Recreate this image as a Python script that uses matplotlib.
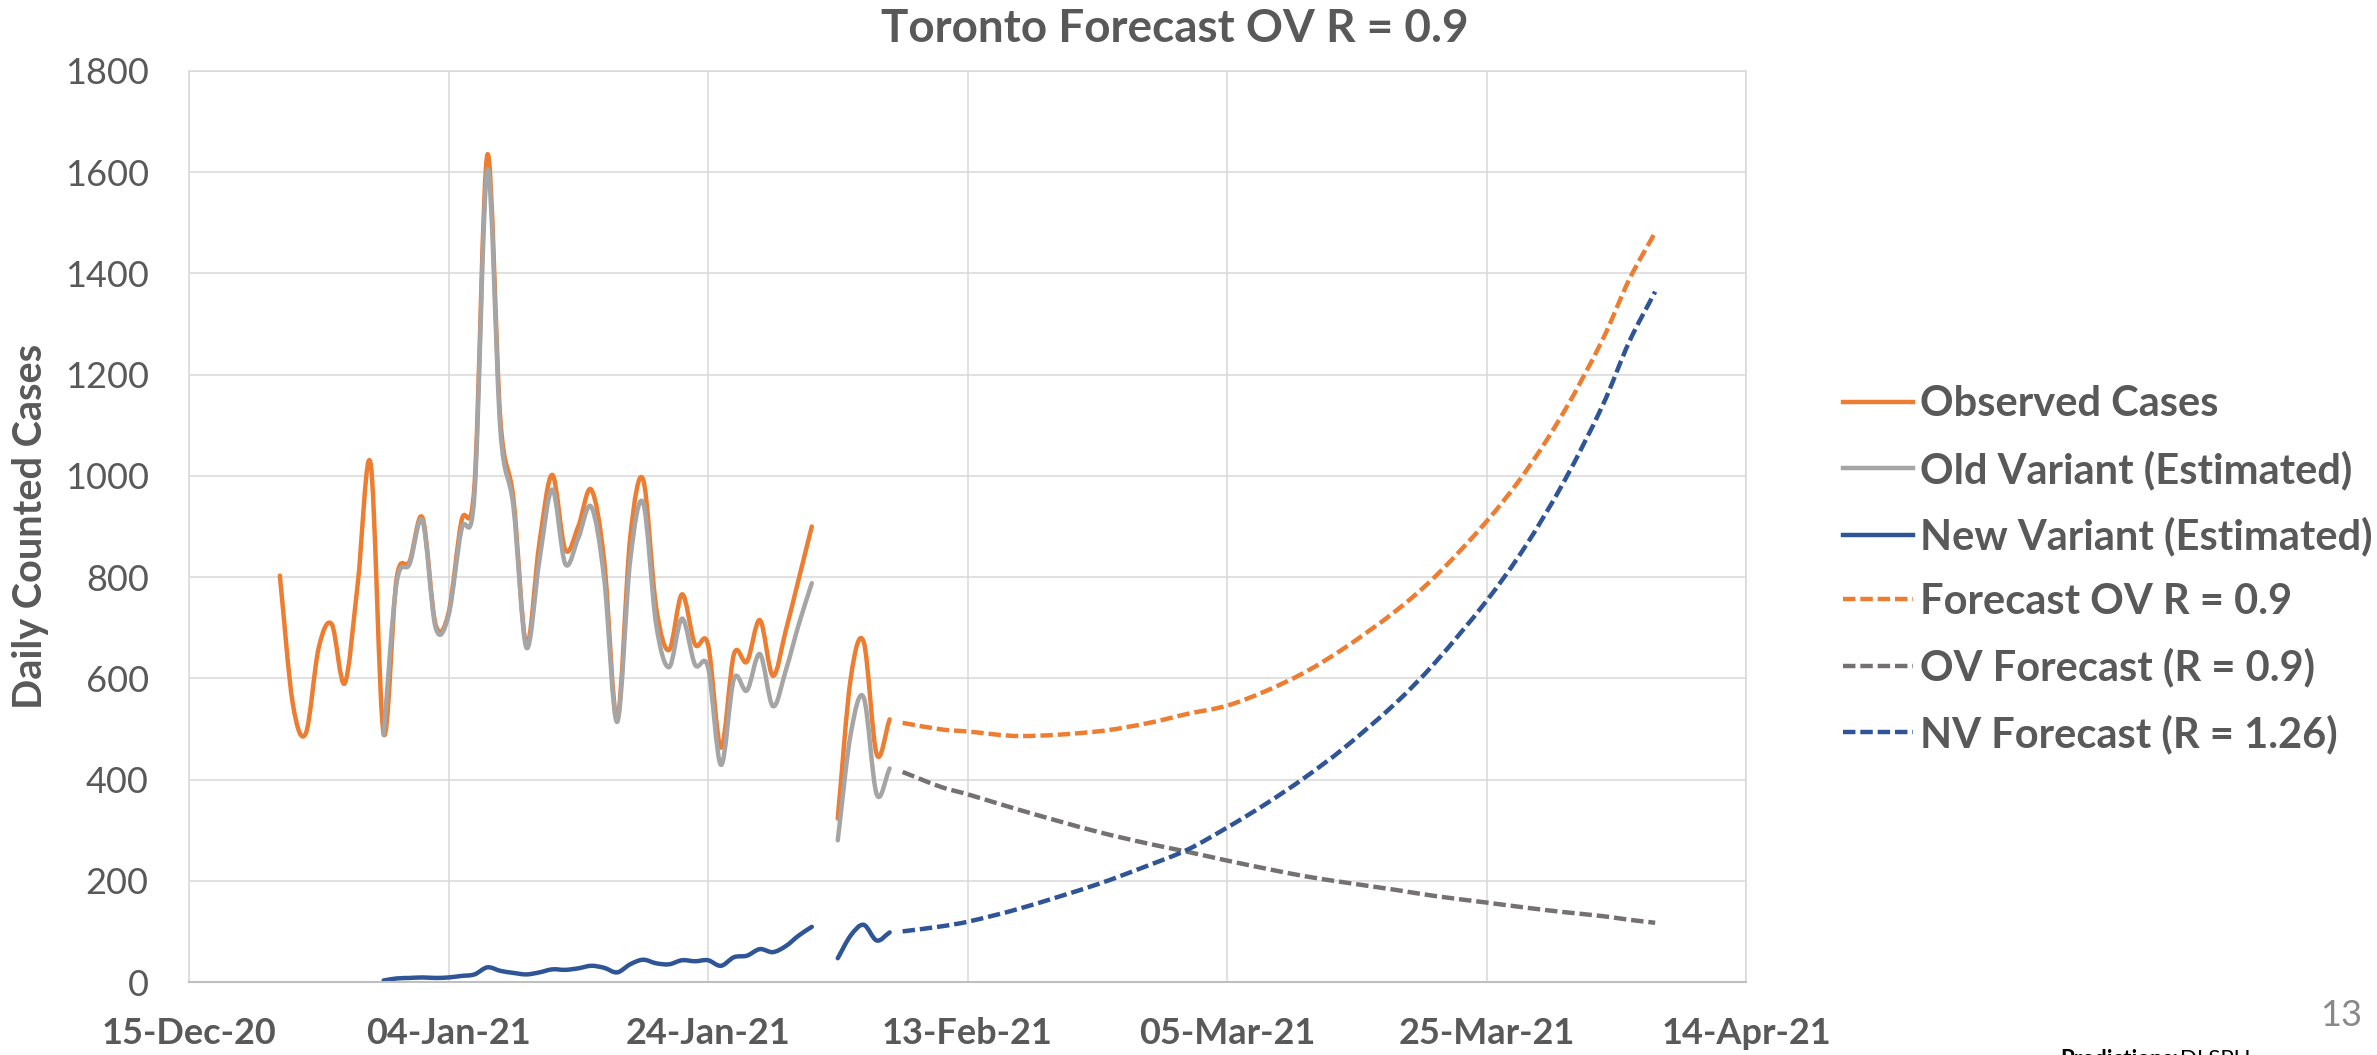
import matplotlib
matplotlib.use("Agg")
import matplotlib.pyplot as plt
import matplotlib.dates as mdates
from matplotlib.path import Path
from matplotlib.patches import PathPatch
from matplotlib.lines import Line2D
import numpy as np
import pandas as pd

plt.rcParams['font.family'] = ['Lato', 'DejaVu Sans']

# observed block 1 (22-Dec-20 .. 01-Feb-21)
obs_start_1 = '2020-12-22'
observed_1 = [803, 550, 491, 661, 707, 590, 786, 1024, 491, 797, 831, 917, 707, 729,
              911, 981, 1635, 1110, 956, 667, 866, 1002, 854, 900, 973, 832, 520, 877,
              993, 741, 656, 766, 667, 667, 463, 648, 633, 715, 605, 695, 797, 900]
# variant estimates start 30-Dec-20
var_start_1 = '2020-12-30'
old_variant_1 = [488, 788, 826, 911, 701, 724, 894, 962, 1605, 1090, 940, 661, 832, 973,
                 826, 877, 939, 797, 514, 832, 947, 707, 622, 718, 627, 622, 429, 599,
                 576, 648, 545, 616, 707, 788]
new_variant_1 = [3, 7, 8, 9, 8, 9, 12, 15, 29, 22, 18, 15, 19, 25, 24, 27, 32, 28, 19,
                 35, 44, 37, 35, 43, 41, 43, 32, 49, 52, 65, 59, 71, 92, 109]

# observed block 2 (03-Feb-21 .. 07-Feb-21)
obs_start_2 = '2021-02-03'
observed_2 = [323, 600, 672, 450, 519]
old_variant_2 = [280, 490, 562, 371, 422]
new_variant_2 = [47, 92, 113, 82, 98]

# forecasts
forecast_dates = ['2021-02-08', '2021-02-11', '2021-02-13', '2021-02-17', '2021-02-23',
                  '2021-02-27', '2021-03-02', '2021-03-05', '2021-03-08', '2021-03-11',
                  '2021-03-14', '2021-03-18', '2021-03-21', '2021-03-25', '2021-03-28',
                  '2021-03-31', '2021-04-03', '2021-04-05', '2021-04-07']
forecast_total = [512, 499, 495, 486, 495, 512, 530, 546, 575, 612, 659, 733, 800, 910,
                  1008, 1128, 1272, 1388, 1481]
forecast_old = [415, 385, 371, 340, 297, 273, 257, 240, 224, 209, 197, 182, 170, 157,
                147, 138, 130, 123, 117]
forecast_new = [100, 110, 119, 145, 193, 231, 262, 305, 352, 404, 462, 551, 630, 753,
                861, 990, 1142, 1265, 1364]

legend_labels = ['Observed Cases', 'Old Variant (Estimated)', 'New Variant (Estimated)',
                 'Forecast OV R = 0.9', 'OV Forecast (R = 0.9)', 'NV Forecast (R = 1.26)']

ORANGE = '#ED7D31'
LGRAY = '#A5A5A5'
BLUE = '#2F5597'
DGRAY = '#767171'
TXT = '#595959'
GRID = '#D9D9D9'
LW = 3.2
DASH = (0, (2.8, 1.1))


def smooth_line(ax, dates, vals, color, ls='-'):
    # smoothed line like excel's: cubic hermite segments drawn as bezier curves
    x = mdates.date2num(pd.to_datetime(dates))
    y = np.asarray(vals, dtype=float)
    n = len(x)
    m = np.empty(n)
    for i in range(n):
        a, b = max(i - 1, 0), min(i + 1, n - 1)
        m[i] = (y[b] - y[a]) / (x[b] - x[a])
    verts = [(x[0], y[0])]
    codes = [Path.MOVETO]
    for i in range(n - 1):
        h = (x[i + 1] - x[i]) / 3
        verts += [(x[i] + h, y[i] + h * m[i]), (x[i + 1] - h, y[i + 1] - h * m[i + 1]),
                  (x[i + 1], y[i + 1])]
        codes += [Path.CURVE4] * 3
    patch = PathPatch(Path(verts, codes), fill=False, edgecolor=color, lw=LW,
                      linestyle=ls, capstyle='round' if ls == '-' else 'butt',
                      joinstyle='round')
    ax.add_patch(patch)


fig = plt.figure(figsize=(23.77, 10.55), dpi=100)
ax = fig.add_axes([189 / 2377, 1 - 982 / 1055, (1746 - 189) / 2377, (982 - 71) / 1055])

d1 = pd.date_range(obs_start_1, periods=len(observed_1))
v1 = pd.date_range(var_start_1, periods=len(old_variant_1))
d2 = pd.date_range(obs_start_2, periods=len(observed_2))

smooth_line(ax, d1, observed_1, ORANGE)
smooth_line(ax, v1, old_variant_1, LGRAY)
smooth_line(ax, v1, new_variant_1, BLUE)
smooth_line(ax, d2, observed_2, ORANGE)
smooth_line(ax, d2, old_variant_2, LGRAY)
smooth_line(ax, d2, new_variant_2, BLUE)
smooth_line(ax, forecast_dates, forecast_total, ORANGE, DASH)
smooth_line(ax, forecast_dates, forecast_old, DGRAY, DASH)
smooth_line(ax, forecast_dates, forecast_new, BLUE, DASH)

ax.set_xlim(pd.Timestamp('2020-12-15'), pd.Timestamp('2021-04-14'))
ax.set_ylim(0, 1800)
ax.set_xticks(pd.date_range('2020-12-15', '2021-04-14', freq='20D'))
ax.xaxis.set_major_formatter(mdates.DateFormatter('%d-%b-%y'))
ax.set_yticks(range(0, 1801, 200))
ax.grid(True, color=GRID, lw=1.1)
ax.set_axisbelow(True)
for s in ['top', 'left', 'right']:
    ax.spines[s].set_color(GRID)
    ax.spines[s].set_linewidth(1.1)
ax.spines['bottom'].set_color('#BFBFBF')
ax.spines['bottom'].set_linewidth(1.5)
ax.tick_params(axis='both', length=0, colors=TXT)
ax.tick_params(axis='y', labelsize=26, pad=29)
ax.tick_params(axis='x', labelsize=26, pad=25)
for lab in ax.get_xticklabels():
    lab.set_fontweight('bold')

fig.text(1175 / 2377, 1 - 29 / 1055, 'Toronto Forecast OV R = 0.9', ha='center',
         va='center', fontsize=33, fontweight='bold', color=TXT)
fig.text(31 / 2377, 1 - 526 / 1055, 'Daily Counted Cases', rotation=90, ha='center',
         va='center', fontsize=28.5, fontweight='bold', color=TXT)

handles = [Line2D([], [], color=ORANGE, lw=LW),
           Line2D([], [], color=LGRAY, lw=LW),
           Line2D([], [], color=BLUE, lw=LW),
           Line2D([], [], color=ORANGE, lw=LW, ls=DASH),
           Line2D([], [], color=DGRAY, lw=LW, ls=DASH),
           Line2D([], [], color=BLUE, lw=LW, ls=DASH)]
ax.legend(handles, legend_labels, loc='center left', bbox_to_anchor=(1843 / 2377, 0.46),
          bbox_transform=fig.transFigure, frameon=False, borderpad=0, borderaxespad=0,
          prop={'family': ['Lato', 'DejaVu Sans'], 'weight': 'bold', 'size': 30},
          labelcolor=TXT, handlelength=1.68, handletextpad=0.17, labelspacing=0.64)

fig.text(2341 / 2377, 1 - 1015 / 1055, '13', ha='center', va='center', fontsize=26,
         color='#898989')
fig.text(2060 / 2377, 1 - 1049 / 1055, 'Predictions:', ha='left', va='top', fontsize=16,
         fontweight='bold', color='black')
fig.text(2180 / 2377, 1 - 1049 / 1055, 'DLSPH', ha='left', va='top', fontsize=16,
         color='black')

fig.savefig('out.png', dpi=100)
